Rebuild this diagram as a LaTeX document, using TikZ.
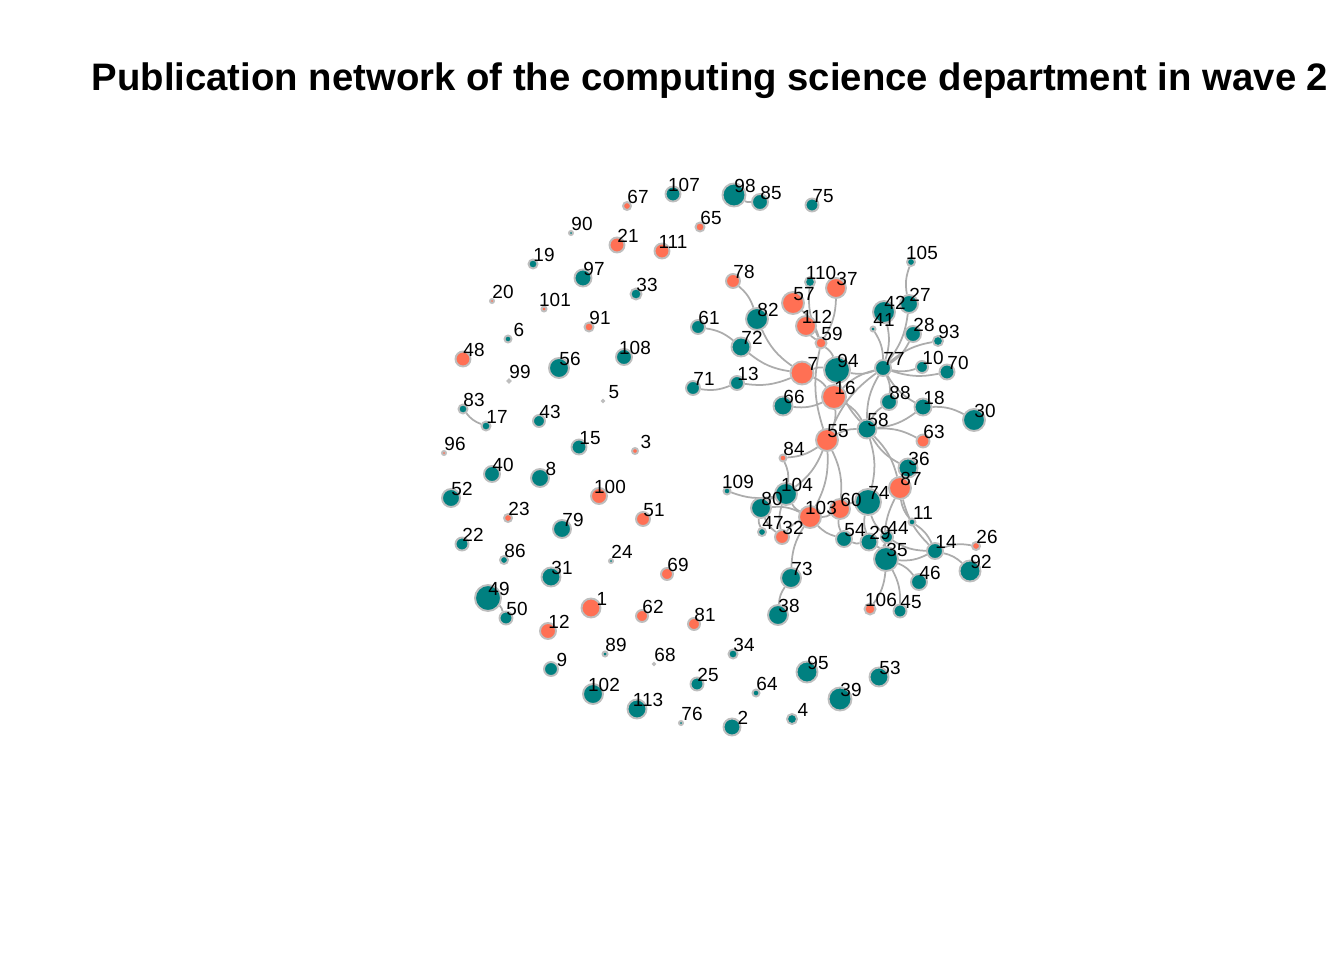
\documentclass[tikz,border=0pt]{standalone}
\usepackage{fontspec}
\setmainfont{Liberation Sans}
\usepackage{xcolor}
\usetikzlibrary{backgrounds}

\definecolor{tealnode}{RGB}{0,128,128}
\definecolor{coralnode}{RGB}{255,112,84}
\definecolor{rimgray}{RGB}{190,190,190}
\definecolor{edgegray}{RGB}{172,172,172}

\tikzset{
  author/.style={circle,draw=rimgray,line width=1.1pt,inner sep=0pt},
  lbl/.style={font=\fontsize{10.8}{12}\selectfont,inner sep=0pt},
  coauth/.style={draw=edgegray,line width=1pt,bend left=15}
}

\begin{document}
\begin{tikzpicture}[x=0.02cm,y=-0.02cm]
\useasboundingbox (0,0) rectangle (1344,960);

% Title
\node[font=\fontsize{21.8}{24}\selectfont\bfseries] (title) at (710,81) {Publication network of the computing science department in wave 2};

% Teal authors
\foreach \id/\x/\y/\r in {107/673/194/7.5, 90/571/233/2, 19/533/264/4.5, 97/583/278/8.5, 33/636/294/5.5,
  6/508/339/3.5, 56/559/368/10, 108/624/357/8, 99/509/381/1.5, 5/603/401/1, 83/463/409/4.5,
  17/486/426/4.5, 43/539/421/6, 15/579/447/7.5, 40/492/474/8, 8/540/478/9, 52/451/498/9,
  79/562/529/9, 22/462/544/6.5, 86/504/560/4, 24/611/561/2, 31/551/577/9.5, 49/488/598/13,
  50/506/618/6.5, 89/605/654/2.5, 68/654/664/1, 9/551/669/7, 25/697/684/6.5, 102/593/694/10,
  113/637/709/9.5, 76/681/723/2, 34/733/654/4.5, 64/756/693/3.5, 95/807/672/10.5, 53/879/677/9.5,
  39/840/699/11.5, 4/792/719/5, 2/732/727/8.5, 98/734/195/11.5, 85/760/202/8, 75/812/205/6.5,
  110/810/282/5, 82/757/319/11, 105/911/262/4, 27/909/304/9, 42/884/312/11, 41/873/329/2.5,
  28/913/334/8, 93/938/341/5, 61/698/327/7, 72/741/347/9.5, 77/883/368/8, 10/922/367/6,
  70/947/372/7.5, 94/837/370/13, 13/737/383/7, 71/693/388/7, 66/783/406/9.5, 88/889/402/8,
  18/923/407/8.5, 30/974/420/11, 58/867/429/9.5, 36/908/468/9.5, 104/786/494/11, 74/868/502/13,
  109/727/491/3.5, 80/761/508/10, 47/762/532/4, 11/912/522/3.5, 54/844/539/8, 29/869/542/8.5,
  44/887/537/6, 35/886/559/12, 14/935/551/8, 92/970/571/10.5, 46/919/582/8, 73/791/578/10,
  45/900/611/6.5, 38/778/615/10}
  \node[author,fill=tealnode,minimum size=\r*0.4mm] (n\id) at (\x,\y) {};

% Coral authors
\foreach \id/\x/\y/\r in {67/627/206/4, 21/617/245/7.5, 111/662/251/7.5, 20/492/301/2, 101/544/309/2.5,
  91/589/327/4.5, 48/463/359/7.5, 96/444/453/2, 3/635/451/3, 100/599/496/8, 23/508/518/4,
  51/643/519/7, 69/667/574/6, 1/591/608/9.5, 62/642/616/6, 81/694/624/6, 12/548/631/8,
  65/700/227/4.5, 78/733/281/7, 37/836/288/10, 57/793/303/11, 112/806/326/10, 59/821/343/5.5,
  7/802/373/11.5, 16/834/397/12, 55/827/440/11, 63/923/441/6.5, 84/783/458/3.5, 87/900/488/11,
  60/840/509/10, 103/810/517/11, 32/782/537/7, 26/976/546/4, 106/870/609/5.5}
  \node[author,fill=coralnode,minimum size=\r*0.4mm] (n\id) at (\x,\y) {};

% Co-authorships (lower id first)
\begin{scope}[on background layer]
\foreach \a/\b in {17/83, 49/50, 85/98,
  78/82, 7/82, 61/72, 7/72, 13/71, 7/13, 16/66, 7/94, 7/16,
  59/110, 37/59, 57/59, 59/112, 55/59, 59/94, 16/55,
  77/94, 16/77, 55/77, 58/77, 58/94, 16/58,
  27/105, 27/77, 42/77, 41/77, 28/77, 77/93, 10/77, 70/77, 77/88, 18/77,
  18/30, 18/58, 58/88, 58/63, 55/58, 58/74, 58/87, 36/58,
  55/84, 84/104, 55/104, 55/103, 55/60, 104/109, 80/104, 103/104, 80/103, 32/80, 47/80, 32/104, 32/103,
  54/103, 60/103, 60/74, 54/60, 29/74, 44/74, 29/54, 29/35, 35/44,
  36/87, 35/87, 11/87, 14/87, 11/14, 14/35, 14/44, 14/26, 14/92,
  35/46, 35/106, 35/45, 73/103, 38/73}
  \draw[coauth] (n\a) to (n\b);
\end{scope}

% Labels
\foreach \id in {1,...,113}
  \node[lbl] (l\id) at ([xshift=0.22cm,yshift=0.18cm]n\id.center) {\id};
\end{tikzpicture}
\end{document}
